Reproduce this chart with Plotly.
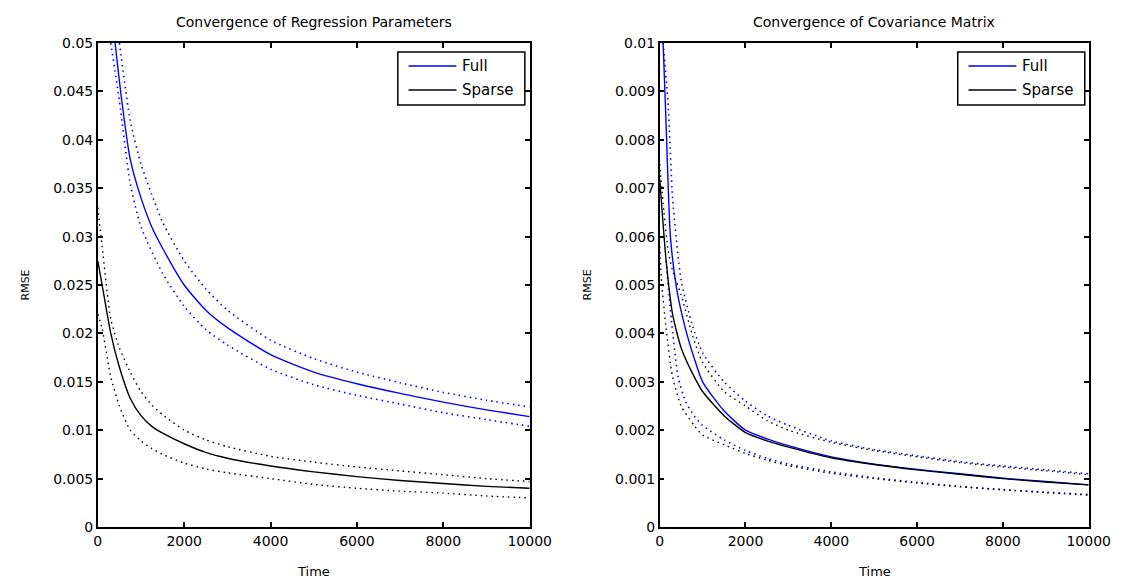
import plotly.graph_objects as go

# ---------------- Left panel: Regression parameters ----------------
reg_full_x = [400, 550, 750, 1000, 1250, 1500, 2000, 2500, 3000, 4000, 5000, 6000, 7000, 8000, 9000, 10000]
reg_full_y = [0.050, 0.0442, 0.0380, 0.0340, 0.0310, 0.0288, 0.0250, 0.0224, 0.0206, 0.0178, 0.0160, 0.0148, 0.0138, 0.0129, 0.0121, 0.0114]

reg_full_up_x = [500, 750, 1000, 1500, 2000, 2500, 3000, 4000, 5000, 6000, 7000, 8000, 9000, 10000]
reg_full_up_y = [0.050, 0.0420, 0.0375, 0.0315, 0.0275, 0.0246, 0.0224, 0.0193, 0.0174, 0.0160, 0.0149, 0.0139, 0.0131, 0.0124]

reg_full_lo_x = [300, 500, 750, 1000, 1500, 2000, 2500, 3000, 4000, 5000, 6000, 7000, 8000, 9000, 10000]
reg_full_lo_y = [0.050, 0.0440, 0.0355, 0.0310, 0.0262, 0.0228, 0.0204, 0.0188, 0.0163, 0.0147, 0.0136, 0.0127, 0.0118, 0.0111, 0.0104]

reg_sp_x = [0, 100, 300, 500, 750, 1000, 1250, 1500, 2000, 2500, 3000, 4000, 5000, 6000, 7000, 8000, 9000, 10000]
reg_sp_y = [0.0275, 0.0250, 0.0200, 0.0165, 0.0133, 0.0115, 0.0104, 0.0097, 0.0086, 0.0077, 0.0071, 0.0063, 0.0057, 0.0052, 0.0048, 0.0045, 0.0042, 0.0040]
reg_sp_up_y = [0.0330, 0.0290, 0.0215, 0.0185, 0.0160, 0.0140, 0.0126, 0.0116, 0.0100, 0.0090, 0.0083, 0.0073, 0.0067, 0.0062, 0.0058, 0.0054, 0.0050, 0.0047]
reg_sp_lo_y = [0.0220, 0.0205, 0.0155, 0.0125, 0.0100, 0.0089, 0.0081, 0.0075, 0.0066, 0.0060, 0.0056, 0.0050, 0.0044, 0.0040, 0.0037, 0.0035, 0.0032, 0.0030]

# ---------------- Right panel: Covariance matrix ----------------
cov_full_x = [80, 150, 250, 400, 600, 800, 1000, 1500, 2000, 2500, 3000, 4000, 5000, 6000, 7000, 8000, 9000, 10000]
cov_full_y = [0.0100, 0.0083, 0.0060, 0.0049, 0.0041, 0.0035, 0.0030, 0.0024, 0.0020, 0.00182, 0.00168, 0.00145, 0.00130, 0.00119, 0.00110, 0.00101, 0.00094, 0.00087]

cov_full_up_x = [80, 200, 300, 500, 750, 1000, 1500, 2000, 2500, 3000, 4000, 5000, 6000, 7000, 8000, 9000, 10000]
cov_full_up_y = [0.0100, 0.0087, 0.0068, 0.0051, 0.0042, 0.0036, 0.0030, 0.0026, 0.0023, 0.0021, 0.00178, 0.00160, 0.00147, 0.00135, 0.00126, 0.00118, 0.00110]

cov_full_lo_x = [150, 270, 430, 600, 800, 1000, 1500, 2000, 2500, 3000, 4000, 5000, 6000, 7000, 8000, 9000, 10000]
cov_full_lo_y = [0.0055, 0.0043, 0.0031, 0.0026, 0.0023, 0.0021, 0.0018, 0.00158, 0.00142, 0.00130, 0.00114, 0.00102, 0.00092, 0.00084, 0.00077, 0.00072, 0.00067]

cov_sp_x = [0, 50, 150, 300, 500, 750, 1000, 1500, 2000, 2500, 3000, 4000, 5000, 6000, 7000, 8000, 9000, 10000]
cov_sp_y = [0.0072, 0.0066, 0.0055, 0.0044, 0.0037, 0.0032, 0.0028, 0.0023, 0.00195, 0.00178, 0.00165, 0.00143, 0.00129, 0.00118, 0.00109, 0.00100, 0.00093, 0.00087]

cov_sp_up_x = [0, 100, 200, 300, 500, 750, 1000, 1500, 2000, 2500, 3000, 4000, 5000, 6000, 7000, 8000, 9000, 10000]
cov_sp_up_y = [0.0075, 0.0065, 0.0057, 0.0053, 0.0048, 0.0040, 0.0034, 0.0028, 0.0025, 0.0022, 0.0020, 0.00175, 0.00158, 0.00145, 0.00133, 0.00124, 0.00116, 0.00108]

cov_sp_lo_x = [0, 50, 150, 300, 500, 800, 1000, 1500, 2000, 2500, 3000, 4000, 5000, 6000, 7000, 8000, 9000, 10000]
cov_sp_lo_y = [0.0058, 0.0050, 0.0041, 0.0031, 0.0025, 0.0021, 0.0019, 0.0017, 0.00152, 0.00138, 0.00127, 0.00111, 0.00100, 0.00091, 0.00083, 0.00077, 0.00071, 0.00066]

titles = ["Convergence of Regression Parameters", "Convergence of Covariance Matrix"]
legend_names = ["Full", "Sparse"]
legend_colors = ["#0000ff", "#000000"]
x_ticks = [0, 2000, 4000, 6000, 8000, 10000]
x_tick_labels = ["0", "2000", "4000", "6000", "8000", "10000"]

BLUE = "#0000ff"
BLACK = "#000000"
FONT = "DejaVu Sans, Verdana, sans-serif"

W, H = 1140, 580
TOP, BOT = 43, 527
PH = BOT - TOP


def px(page_x):
    return page_x / W


def py(page_y):
    return (BOT - page_y) / PH


fig = go.Figure()


def add(x, y, color, dash, xa, ya, width=1.4):
    fig.add_trace(go.Scatter(
        x=x, y=y, mode="lines",
        line=dict(color=color, width=width, dash=dash, shape="spline", smoothing=0.6),
        xaxis=xa, yaxis=ya, showlegend=False, hoverinfo="skip"))


DOT = "1.5px,4px"

# left panel
add(reg_full_up_x, reg_full_up_y, BLUE, DOT, "x", "y", width=1.6)
add(reg_full_lo_x, reg_full_lo_y, BLUE, DOT, "x", "y", width=1.6)
add(reg_sp_x, reg_sp_up_y, BLACK, DOT, "x", "y")
add(reg_sp_x, reg_sp_lo_y, BLACK, DOT, "x", "y")
add(reg_full_x, reg_full_y, BLUE, "solid", "x", "y")
add(reg_sp_x, reg_sp_y, BLACK, "solid", "x", "y")

# right panel
add(cov_full_up_x, cov_full_up_y, BLUE, DOT, "x2", "y2", width=1.6)
add(cov_full_lo_x, cov_full_lo_y, BLUE, DOT, "x2", "y2", width=1.6)
add(cov_sp_up_x, cov_sp_up_y, BLACK, DOT, "x2", "y2")
add(cov_sp_lo_x, cov_sp_lo_y, BLACK, DOT, "x2", "y2")
add(cov_full_x, cov_full_y, BLUE, "solid", "x2", "y2")
add(cov_sp_x, cov_sp_y, BLACK, "solid", "x2", "y2")

axis_common = dict(
    showline=True, linecolor="black", linewidth=1.5, mirror="ticks",
    ticks="inside", ticklen=5, tickwidth=1.5, tickcolor="black",
    showgrid=False, zeroline=False,
    tickfont=dict(family=FONT, size=14, color="black"),
)

fig.update_layout(
    width=W, height=H,
    margin=dict(l=0, r=0, t=TOP, b=H - BOT),
    paper_bgcolor="white", plot_bgcolor="white",
    font=dict(family=FONT, size=14, color="black"),
    showlegend=False,
    xaxis=dict(domain=[px(96), px(538)], range=[0, 10000], tickvals=x_ticks, ticktext=x_tick_labels,
               anchor="y", **axis_common),
    yaxis=dict(domain=[0, 1], range=[0, 0.05], dtick=0.005, tick0=0, anchor="x", **axis_common),
    xaxis2=dict(domain=[px(671), px(1110)], range=[0, 10000], tickvals=x_ticks, ticktext=x_tick_labels,
                anchor="y2", **axis_common),
    yaxis2=dict(domain=[0, 1], range=[0, 0.01], dtick=0.001, tick0=0, anchor="x2", **axis_common),
)

anns = []
shapes = []
legend_boxes = [(403, 533), (976, 1106)]
for i, (a, b) in enumerate([(96, 538), (671, 1110)]):
    cx = px((a + b) / 2)
    anns.append(dict(text=titles[i], x=cx, y=py(22), xref="paper", yref="paper",
                     showarrow=False, font=dict(family=FONT, size=14, color="black"),
                     xanchor="center", yanchor="middle"))
    anns.append(dict(text="Time", x=cx, y=py(571), xref="paper", yref="paper",
                     showarrow=False, font=dict(family=FONT, size=13, color="black"),
                     xanchor="center", yanchor="middle"))
    rx = px(22 if i == 0 else 597)
    anns.append(dict(text="RMSE", x=rx, y=0.5, xref="paper", yref="paper", textangle=-90,
                     showarrow=False, font=dict(family=FONT, size=11, color="black"),
                     xanchor="center", yanchor="middle"))
    lx0, lx1 = legend_boxes[i]
    shapes.append(dict(type="rect", xref="paper", yref="paper",
                       x0=px(lx0), x1=px(lx1), y0=py(52), y1=py(105),
                       line=dict(color="black", width=1.5), fillcolor="white", layer="above"))
    for j, name in enumerate(legend_names):
        yy = py(66 if j == 0 else 90)
        shapes.append(dict(type="line", xref="paper", yref="paper",
                           x0=px(lx0 + 11), x1=px(lx0 + 60), y0=yy, y1=yy,
                           line=dict(color=legend_colors[j], width=1.5), layer="above"))
        anns.append(dict(text=name, x=px(lx0 + 64), y=yy, xref="paper", yref="paper",
                         showarrow=False, font=dict(family=FONT, size=15, color="black"),
                         xanchor="left", yanchor="middle"))

fig.update_layout(annotations=anns, shapes=shapes)

fig.write_html("out.html", config={"displayModeBar": False},
               post_script="document.body.style.margin='0';document.body.style.overflow='hidden';")
